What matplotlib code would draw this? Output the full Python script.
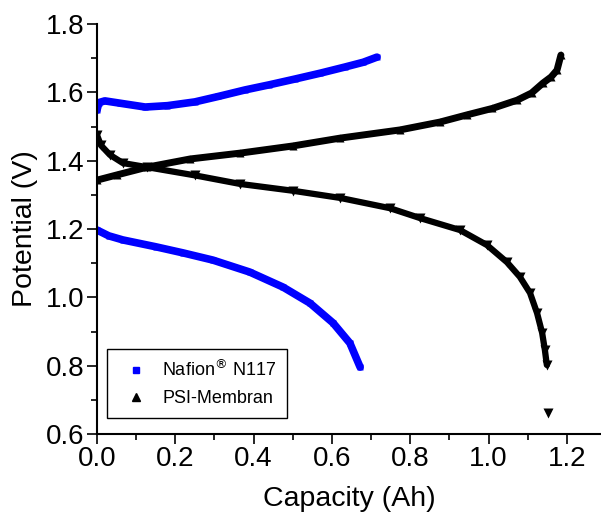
import matplotlib
matplotlib.use("Agg")
import matplotlib.pyplot as plt
import numpy as np

plt.rcParams['font.family'] = ['Liberation Sans', 'DejaVu Sans']

# Nafion N117 (blue squares)
nafion_charge_x = [0.0, 0.005, 0.02, 0.06, 0.123, 0.18, 0.25, 0.31, 0.378, 0.44, 0.506, 0.57, 0.633, 0.68, 0.715]
nafion_charge_y = [1.548, 1.570, 1.575, 1.568, 1.557, 1.561, 1.572, 1.588, 1.607, 1.622, 1.639, 1.656, 1.674, 1.688, 1.703]
nafion_dis_x = [0.0, 0.03, 0.066, 0.15, 0.22, 0.296, 0.39, 0.475, 0.544, 0.603, 0.646, 0.672]
nafion_dis_y = [1.197, 1.180, 1.168, 1.148, 1.130, 1.109, 1.074, 1.030, 0.983, 0.925, 0.866, 0.796]

# PSI-Membran (black triangles)
psi_charge_x = [0.0, 0.05, 0.128, 0.238, 0.365, 0.50, 0.621, 0.774, 0.876, 0.945, 1.01, 1.073,
                1.11, 1.139, 1.16, 1.175, 1.185]
psi_charge_y = [1.343, 1.358, 1.381, 1.405, 1.422, 1.443, 1.466, 1.490, 1.513, 1.534, 1.553, 1.577,
                1.598, 1.627, 1.645, 1.665, 1.709]
psi_dis_x = [0.0, 0.01, 0.033, 0.066, 0.128, 0.25, 0.365, 0.50, 0.621, 0.748, 0.825, 0.927, 0.996,
             1.047, 1.08, 1.106, 1.124, 1.137, 1.144, 1.149, 1.152]
psi_dis_y = [1.475, 1.445, 1.417, 1.393, 1.381, 1.357, 1.332, 1.312, 1.291, 1.261, 1.232, 1.197,
             1.153, 1.103, 1.060, 1.013, 0.954, 0.896, 0.846, 0.802, 0.661]

fig = plt.figure(figsize=(6.01, 5.23), dpi=100)
ax = fig.add_axes([97 / 601, 1 - 434 / 523, 504 / 601, 410 / 523])

blue = '#0000ff'
ax.plot(nafion_charge_x, nafion_charge_y, color=blue, lw=5.5, solid_capstyle='round',
        marker='s', ms=4.5, mec='none')
ax.plot(nafion_dis_x, nafion_dis_y, color=blue, lw=5.5, solid_capstyle='round',
        marker='s', ms=4.5, mec='none')
ax.plot(psi_charge_x, psi_charge_y, color='black', lw=5, solid_capstyle='round',
        marker='^', ms=6, mec='none')
ax.plot(psi_dis_x[:-1], psi_dis_y[:-1], color='black', lw=4.5, solid_capstyle='round',
        marker='v', ms=6.5, mec='none')
ax.plot(psi_dis_x[-1:], psi_dis_y[-1:], color='black', lw=0, marker='v', ms=7, mec='none')

ax.set_xlim(0, 504 / 391.5)
ax.set_ylim(0.6, 1.8)
ax.set_xticks(np.arange(0, 1.21, 0.2))
ax.set_yticks(np.arange(0.6, 1.81, 0.2))
ax.set_xticks(np.arange(0.1, 1.29, 0.2), minor=True)
ax.set_yticks(np.arange(0.7, 1.71, 0.2), minor=True)
ax.xaxis.set_major_formatter(matplotlib.ticker.FormatStrFormatter('%.1f'))
ax.yaxis.set_major_formatter(matplotlib.ticker.FormatStrFormatter('%.1f'))
ax.tick_params(which='major', direction='out', length=7, width=1.2, labelsize=20, pad=2)
ax.tick_params(which='minor', direction='out', length=4, width=1.2)
for s in ['top', 'right']:
    ax.spines[s].set_visible(False)
for s in ['left', 'bottom']:
    ax.spines[s].set_linewidth(1.5)

ax.set_xlabel('Capacity (Ah)', fontsize=20.5, labelpad=10)
ax.set_ylabel('Potential (V)', fontsize=20.5, labelpad=6)

h1 = ax.plot([], [], ls='none', marker='s', color=blue, ms=5)[0]
h2 = ax.plot([], [], ls='none', marker='^', color='black', ms=6)[0]
leg = ax.legend([h1, h2], ['Nafion$^{\\circledR}$ N117', 'PSI-Membran'],
                loc='lower left', bbox_to_anchor=(0.02, 0.039), borderaxespad=0,
                fontsize=13, fancybox=False, edgecolor='black', framealpha=1,
                handletextpad=0.45, borderpad=0.6, labelspacing=0.55)
leg.get_frame().set_linewidth(1.0)

fig.savefig('out.png', dpi=100)
